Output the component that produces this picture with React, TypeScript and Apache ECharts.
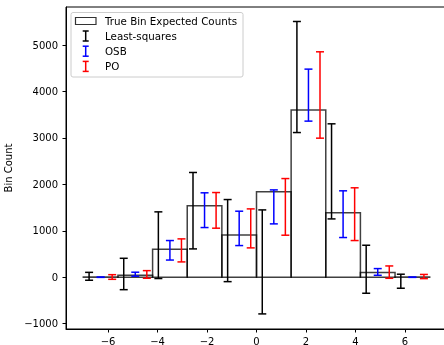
import React, { useEffect, useRef } from "react";
import * as echarts from "echarts";

const binEdges = [-7, -5.6, -4.2, -2.8, -1.4, 0, 1.4, 2.8, 4.2, 5.6, 7];
const trueCounts = [5, 40, 600, 1540, 910, 1840, 3600, 1390, 100, 5];
const lsValues = [20, 70, 690, 1433, 789, 330, 4312, 2280, 172, -86];
const lsErrors = [85, 338, 718, 823, 884, 1120, 1196, 1024, 517, 151];
const osbValues = [0, 65, 580, 1444, 1052, 1515, 3922, 1358, 114, 0];
const osbErrors = [3, 43, 210, 374, 370, 366, 560, 503, 72, 3];
const poValues = [5, 60, 578, 1440, 1052, 1515, 3925, 1358, 110, 15];
const poErrors = [50, 82, 248, 384, 420, 610, 930, 568, 133, 45];
const xTicks = [-6, -4, -2, 0, 2, 4, 6];
const yTicks = [-1000, 0, 1000, 2000, 3000, 4000, 5000];
const legendNames = ["True Bin Expected Counts", "Least-squares", "OSB", "PO"];

const FONT = "DejaVu Sans";
const fmt = (v: number) => String(v).replace("-", "\u2212");

function errSeries(name: string, color: string, values: number[], errors: number[], offsetFrac: number) {
  const data = values.map((v, i) => {
    const w = binEdges[i + 1] - binEdges[i];
    const c = (binEdges[i] + binEdges[i + 1]) / 2 + offsetFrac * w;
    return [c, v - errors[i], v + errors[i]];
  });
  return {
    type: "custom",
    name,
    data,
    itemStyle: { color },
    encode: { x: 0, y: [1, 2] },
    z: 3,
    renderItem: (_params: any, api: any) => {
      const x = api.value(0);
      const lo = api.value(1);
      const hi = api.value(2);
      const pLo = api.coord([x, lo]);
      const pHi = api.coord([x, hi]);
      const hw = 4;
      const style = { stroke: color, lineWidth: 1.5, fill: "none" };
      return {
        type: "group",
        children: [
          { type: "line", shape: { x1: pLo[0], y1: pLo[1], x2: pHi[0], y2: pHi[1] }, style },
          { type: "line", shape: { x1: pLo[0] - hw, y1: pLo[1], x2: pLo[0] + hw, y2: pLo[1] }, style },
          { type: "line", shape: { x1: pHi[0] - hw, y1: pHi[1], x2: pHi[0] + hw, y2: pHi[1] }, style },
        ],
      };
    },
  };
}

export default function App() {
  const ref = useRef<HTMLDivElement>(null);
  useEffect(() => {
    if (!ref.current) return;
    const chart = echarts.init(ref.current, null, { renderer: "svg" });
    const histData = trueCounts.map((v, i) => [binEdges[i], binEdges[i + 1], v]);
    const legendX = 71;
    const legendY = 12.5;
    const rowY = [20.7, 36, 51.2, 66.4];
    const iconX = 85.7;
    const colors = ["#000000", "#000000", "#0000ff", "#ff0000"];
    const legendChildren: any[] = [
      {
        type: "rect",
        shape: { x: legendX, y: legendY, width: 172, height: 64.5, r: 2 },
        style: { fill: "rgba(255,255,255,0.8)", stroke: "#cccccc", lineWidth: 1 },
      },
      {
        type: "rect",
        shape: { x: 75.5, y: 17.5, width: 20.5, height: 7 },
        style: { fill: "none", stroke: "rgba(0,0,0,0.8)", lineWidth: 1.2 },
      },
    ];
    for (let k = 1; k < 4; k++) {
      const cy = rowY[k];
      const st = { stroke: colors[k], lineWidth: 1.5, fill: "none" };
      legendChildren.push(
        { type: "line", shape: { x1: iconX, y1: cy - 5, x2: iconX, y2: cy + 5 }, style: st },
        { type: "line", shape: { x1: iconX - 3, y1: cy - 5, x2: iconX + 3, y2: cy - 5 }, style: st },
        { type: "line", shape: { x1: iconX - 3, y1: cy + 5, x2: iconX + 3, y2: cy + 5 }, style: st }
      );
    }
    for (let k = 0; k < 4; k++) {
      legendChildren.push({
        type: "text",
        style: {
          text: legendNames[k],
          x: 105,
          y: rowY[k],
          verticalAlign: "middle",
          align: "left",
          font: `10.3px "${FONT}"`,
          fill: "#000",
        },
      });
    }
    chart.setOption({
      animation: false,
      textStyle: { fontFamily: FONT },
      grid: {
        left: 66,
        right: -3,
        top: 7,
        bottom: 16,
        outerBoundsMode: "none",
        containLabel: false,
        show: true,
        borderColor: "#000",
        borderWidth: 1,
        backgroundColor: "transparent",
      },
      xAxis: {
        type: "value",
        min: -7.7,
        max: 7.7,
        splitLine: { show: false },
        axisLine: { show: true, onZero: false, lineStyle: { color: "#000", width: 1 } },
        axisTick: { show: true, length: 3.5, customValues: xTicks, lineStyle: { color: "#000", width: 1 } },
        axisLabel: {
          customValues: xTicks,
          formatter: fmt,
          color: "#000",
          fontSize: 10,
          fontFamily: FONT,
          margin: 7,
        },
      },
      yAxis: {
        type: "value",
        min: -1115,
        max: 5820,
        name: "Bin Count",
        nameLocation: "middle",
        nameGap: 50,
        nameTextStyle: { color: "#000", fontSize: 10, fontFamily: FONT },
        splitLine: { show: false },
        axisLine: { show: true, onZero: false, lineStyle: { color: "#000", width: 1 } },
        axisTick: { show: true, length: 3.5, customValues: yTicks, lineStyle: { color: "#000", width: 1 } },
        axisLabel: {
          customValues: yTicks,
          formatter: fmt,
          color: "#000",
          fontSize: 10,
          fontFamily: FONT,
          margin: 8,
        },
      },
      series: [
        {
          type: "custom",
          name: legendNames[0],
          data: histData,
          encode: { x: [0, 1], y: 2 },
          z: 2,
          renderItem: (_params: any, api: any) => {
            const x0 = api.value(0);
            const x1 = api.value(1);
            const v = api.value(2);
            const p0 = api.coord([x0, 0]);
            const p1 = api.coord([x1, v]);
            return {
              type: "rect",
              shape: { x: p0[0], y: Math.min(p0[1], p1[1]), width: p1[0] - p0[0], height: Math.abs(p0[1] - p1[1]) },
              style: { fill: "none", stroke: "rgba(0,0,0,0.75)", lineWidth: 1.5 },
            };
          },
        },
        errSeries(legendNames[1], "#000000", lsValues, lsErrors, -1 / 3),
        errSeries(legendNames[2], "#0000ff", osbValues, osbErrors, 0),
        errSeries(legendNames[3], "#ff0000", poValues, poErrors, 1 / 3),
      ],
      graphic: [{ type: "group", children: legendChildren, z: 100 }],
    });
    return () => chart.dispose();
  }, []);
  return <div ref={ref} style={{ position: "fixed", left: 0, top: 0, width: 444, height: 345 }} />;
}
